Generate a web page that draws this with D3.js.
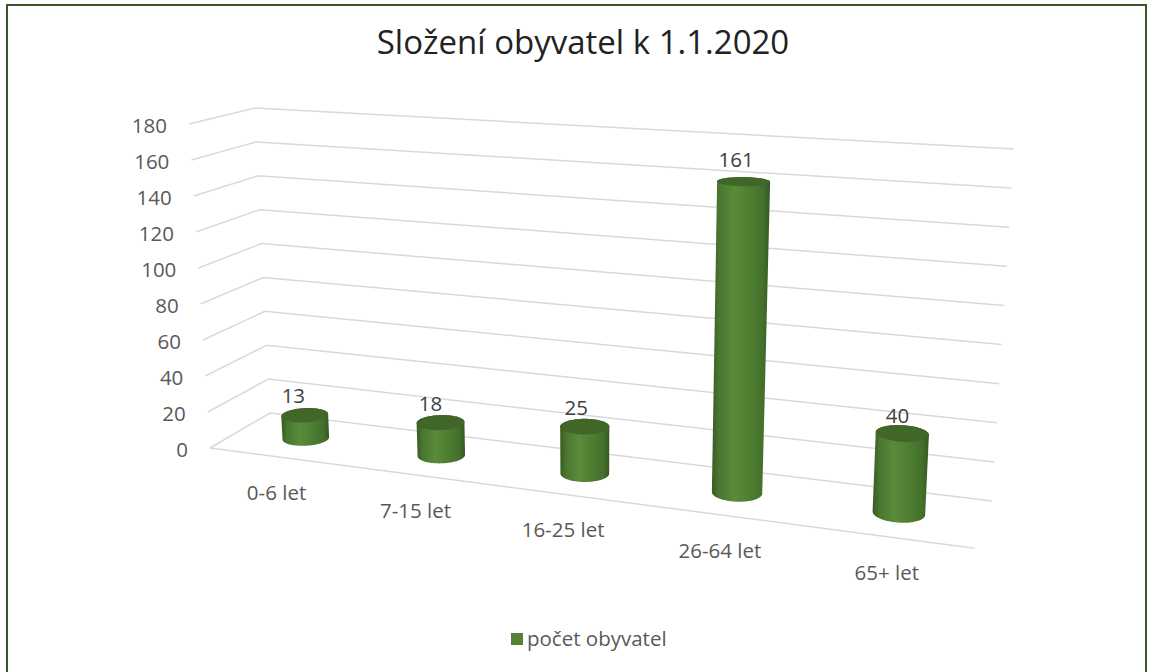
<!DOCTYPE html>
<html>
<head>
<meta charset="utf-8">
<script src="https://d3js.org/d3.v7.min.js"></script>
<style>
  body { margin: 0; background: #fff; }
  text { font-family: "Open Sans", sans-serif; }
</style>
</head>
<body>
<div id="chart"></div>
<script>
// data
const categories = ["0-6 let", "7-15 let", "16-25 let", "26-64 let", "65+ let"];
const values = [13, 18, 25, 161, 40];
const yTicks = [0, 20, 40, 60, 80, 100, 120, 140, 160, 180];
const seriesName = "počet obyvatel";
const chartTitle = "Složení obyvatel k 1.1.2020";

const width = 1152, height = 672;

// screen corners of the 3D plot box (f/b = front/back, l/r = left/right, b/t = bottom/top)
const box = {
    flb: [210, 448], blb: [270, 413], brb: [992, 501],
    flt: [189, 124], blt: [255, 108], brt: [1014, 149]
};
// apparent height of the vertical box edges, used as inverse depth
const edgeH = { fl: 324, bl: 305, br: 352 };
const boxDepth = 0.157;   // floor depth relative to floor width

const zfl = 1 / edgeH.fl, zbl = 1 / edgeH.bl, zbr = 1 / edgeH.br;
const hom = (p, z) => [p[0] * z, p[1] * z, z];
const add = (a, b, c) => a.map((v, i) => v + b[i] - c[i]);
const H = {
    flb: hom(box.flb, zfl), blb: hom(box.blb, zbl), brb: hom(box.brb, zbr),
    flt: hom(box.flt, zfl), blt: hom(box.blt, zbl), brt: hom(box.brt, zbr)
};
H.frb = add(H.flb, H.brb, H.blb);
H.frt = add(H.flt, H.brt, H.blt);

const lerp = (a, b, s) => a.map((v, i) => v + (b[i] - v) * s);

// t: along categories (0..1), v: height (0..1), w: depth (0 front .. 1 back)
function project(t, v, w) {
    const front = lerp(lerp(H.flb, H.frb, t), lerp(H.flt, H.frt, t), v);
    const back = lerp(lerp(H.blb, H.brb, t), lerp(H.blt, H.brt, t), v);
    const p = lerp(front, back, w);
    return [p[0] / p[2], p[1] / p[2]];
}

const x = d3.scaleBand().domain(categories).range([0, 1])
    .paddingInner(0.69).paddingOuter(0.345);
const y = d3.scaleLinear().domain([0, 180]).range([0, 1]);

const svg = d3.select("#chart").append("svg")
    .attr("width", width).attr("height", height);

const defs = svg.append("defs");
const grad = defs.append("linearGradient").attr("id", "cyl")
    .attr("x1", 0).attr("x2", 1).attr("y1", 0).attr("y2", 0);
[[0, "#395a22"], [0.12, "#4a7630"], [0.38, "#5a8b3b"], [0.62, "#507f32"], [0.88, "#43702b"], [1, "#375621"]]
    .forEach(([o, c]) => grad.append("stop").attr("offset", o).attr("stop-color", c));

// frame
svg.append("rect")
    .attr("x", 7).attr("y", 5).attr("width", 1139).attr("height", 690)
    .attr("fill", "none").attr("stroke", "#375623").attr("stroke-width", 2);

// title
svg.append("text")
    .attr("x", 583).attr("y", 54)
    .attr("text-anchor", "middle")
    .attr("font-size", 33)
    .attr("fill", "#222")
    .text(chartTitle);

const line = d3.line();

// gridlines: left wall + back wall
svg.append("g").selectAll("path")
    .data(yTicks)
    .join("path")
    .attr("d", d => line([project(0, y(d), 0), project(0, y(d), 1), project(1, y(d), 1)]))
    .attr("fill", "none").attr("stroke", "#d9d9d9").attr("stroke-width", 1.5);

// floor front edge
svg.append("path")
    .attr("d", line([project(0, 0, 0), project(1, 0, 0)]))
    .attr("fill", "none").attr("stroke", "#d9d9d9").attr("stroke-width", 1.5);

// value axis labels
svg.append("g").selectAll("text")
    .data(yTicks)
    .join("text")
    .attr("x", d => project(0, y(d), 0)[0] - 22)
    .attr("y", d => project(0, y(d), 0)[1] + 2)
    .attr("dy", "0.35em")
    .attr("text-anchor", "end")
    .attr("font-size", 20.5)
    .attr("fill", "#595959")
    .text(d => d);

// category labels
svg.append("g").selectAll("text")
    .data(categories)
    .join("text")
    .attr("x", d => project(x(d) + x.bandwidth() / 2, 0, 0)[0])
    .attr("y", d => project(x(d) + x.bandwidth() / 2, 0, 0)[1] + 36)
    .attr("dy", "0.35em")
    .attr("text-anchor", "middle")
    .attr("font-size", 20.5)
    .attr("fill", "#595959")
    .text(d => d);

// cylinders
const rT = x.bandwidth() / 2;
const rW = rT / boxDepth;
const angles = d3.range(0, 2 * Math.PI, Math.PI / 60);
const bars = categories.map((c, i) => {
    const tc = x(c) + rT;
    const v = y(values[i]);
    const bottom = angles.map(a => project(tc + rT * Math.cos(a), 0, 0.5 + rW * Math.sin(a)));
    const top = angles.map(a => project(tc + rT * Math.cos(a), v, 0.5 + rW * Math.sin(a)));
    return { c, value: values[i], tc, v, body: d3.polygonHull(bottom.concat(top)), top };
});

const g = svg.append("g");
g.selectAll("path.body")
    .data(bars)
    .join("path")
    .attr("class", "body")
    .attr("d", d => "M" + d.body.join("L") + "Z")
    .attr("fill", "url(#cyl)");
g.selectAll("path.top")
    .data(bars)
    .join("path")
    .attr("class", "top")
    .attr("d", d => "M" + d.top.join("L") + "Z")
    .attr("fill", "#406628");

// data labels
svg.append("g").selectAll("text")
    .data(bars)
    .join("text")
    .attr("x", d => project(d.tc, d.v, 0.5 - rW)[0])
    .attr("y", d => project(d.tc, d.v, 0.5 - rW)[1] - 26)
    .attr("dy", "0.35em")
    .attr("text-anchor", "middle")
    .attr("font-size", 20.5)
    .attr("fill", "#404040")
    .text(d => d.value);

// legend
svg.append("rect")
    .attr("x", 511).attr("y", 633).attr("width", 12).attr("height", 12)
    .attr("fill", "#548235");
svg.append("text")
    .attr("x", 527).attr("y", 646)
    .attr("font-size", 20.5)
    .attr("fill", "#595959")
    .text(seriesName);
</script>
</body>
</html>
